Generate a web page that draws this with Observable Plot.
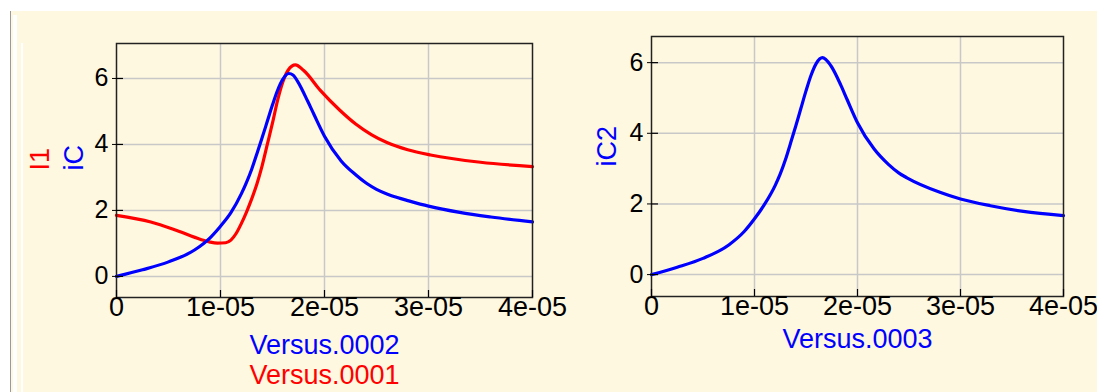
<!DOCTYPE html>
<html><head><meta charset="utf-8">
<script src="https://cdn.jsdelivr.net/npm/d3@7"></script>
<script src="https://cdn.jsdelivr.net/npm/@observablehq/plot@0.6"></script>
<style>
html,body{margin:0;padding:0;background:#fff;}
#wrap{position:relative;width:1097px;height:392px;overflow:hidden;background:#fff;font-family:"Liberation Sans",Arial,sans-serif;}
#panel{position:absolute;left:11px;top:11px;right:0;bottom:0;background:#fff8e1;}
.edge{position:absolute;left:10px;top:11px;width:1px;bottom:0;background:#9a9a9a;}
.w1{position:absolute;left:13px;top:15px;width:4px;bottom:0;background:#fff;}
.w2{position:absolute;left:21px;top:43px;width:2px;bottom:0;background:#fff;}
#left{position:absolute;left:0;top:0;}
#right{position:absolute;left:560px;top:0;}
</style></head><body>
<div id="wrap"><div id="panel"></div><div class="edge"></div><div class="w1"></div><div class="w2"></div><div id="left"></div><div id="right"></div></div>
<script>
// Tick values and labels
const xTicks = [0, 1e-5, 2e-5, 3e-5, 4e-5];
const xTickLabels = ["0", "1e-05", "2e-05", "3e-05", "4e-05"];
const yTicks = [0, 2, 4, 6];

// Left panel: iC (blue)
const iC_t = [0, 2.5e-6, 5e-6, 7.5e-6, 9e-6, 1e-5, 1.1e-5, 1.2e-5, 1.25e-5, 1.3e-5, 1.35e-5, 1.4e-5, 1.45e-5, 1.5e-5, 1.55e-5, 1.6e-5, 1.657e-5, 1.7e-5, 1.74e-5, 1.84e-5, 1.9e-5, 2e-5, 2.16e-5, 2.3e-5, 2.4e-5, 2.5e-5, 2.6e-5, 2.7e-5, 2.81e-5, 3e-5, 3.3e-5, 3.6e-5, 4e-5];
const iC_v = [0, 0.2, 0.44, 0.8, 1.17, 1.52, 1.93, 2.5, 2.85, 3.25, 3.72, 4.2, 4.7, 5.2, 5.65, 5.98, 6.15, 6.1, 5.92, 5.3, 4.9, 4.25, 3.5, 3.08, 2.83, 2.64, 2.5, 2.39, 2.29, 2.13, 1.94, 1.8, 1.65];

// Left panel: I1 (red)
const I1_t = [0, 3.3e-6, 5.8e-6, 8.1e-6, 9e-6, 9.7e-6, 1.05e-5, 1.1e-5, 1.15e-5, 1.2e-5, 1.25e-5, 1.3e-5, 1.35e-5, 1.4e-5, 1.45e-5, 1.5e-5, 1.55e-5, 1.6e-5, 1.65e-5, 1.72e-5, 1.8e-5, 1.96e-5, 2.15e-5, 2.3e-5, 2.45e-5, 2.6e-5, 2.8e-5, 3.02e-5, 3.5e-5, 4e-5];
const I1_v = [1.85, 1.65, 1.39, 1.12, 1.04, 1.01, 1.02, 1.1, 1.3, 1.6, 1.95, 2.35, 2.8, 3.35, 4.0, 4.65, 5.35, 5.9, 6.25, 6.41, 6.24, 5.64, 5.03, 4.62, 4.3, 4.06, 3.84, 3.68, 3.46, 3.33];

// Right panel: iC2 (blue)
const iC2_t = [0, 2.5e-6, 5e-6, 7.5e-6, 9e-6, 1e-5, 1.1e-5, 1.2e-5, 1.25e-5, 1.3e-5, 1.35e-5, 1.4e-5, 1.45e-5, 1.5e-5, 1.55e-5, 1.6e-5, 1.66e-5, 1.74e-5, 1.84e-5, 1.9e-5, 2e-5, 2.16e-5, 2.3e-5, 2.4e-5, 2.48e-5, 2.8e-5, 3e-5, 3.29e-5, 3.61e-5, 4e-5];
const iC2_v = [0, 0.21, 0.46, 0.84, 1.22, 1.58, 2.0, 2.52, 2.85, 3.25, 3.72, 4.2, 4.7, 5.2, 5.65, 5.98, 6.14, 5.92, 5.35, 4.95, 4.3, 3.56, 3.12, 2.88, 2.74, 2.33, 2.14, 1.95, 1.79, 1.67];

const zip = (t, v) => t.map((d, i) => ({t: d, v: v[i]}));
const H = 392;

function panel(o) {
  const innerW = o.width - o.mL - o.mR, innerH = H - o.mT - o.mB;
  const marks = [
    Plot.ruleX(xTicks.slice(1, -1), {x: d => d, stroke: "#c8c8c8", strokeWidth: 1.5}),
    Plot.ruleY(yTicks, {y: d => d, stroke: "#c8c8c8", strokeWidth: 1.5}),
    ...o.series.map(s => Plot.line(zip(s.t, s.v), {x: "t", y: "v", stroke: s.color, strokeWidth: 3.2, curve: "monotone-x"})),
    Plot.frame({stroke: "#222", strokeWidth: 1.5}),
    Plot.axisX({ticks: xTicks, tickFormat: d => xTickLabels[xTicks.indexOf(d)], tickSize: 0, tickPadding: -1, fontSize: 27, label: null}),
    Plot.axisY({ticks: yTicks, tickSize: 4, tickPadding: 4, fontSize: 25, label: null}),
    Plot.tickY(yTicks, {y: d => d, stroke: "#000", strokeWidth: 1.2, insetRight: innerW - 7}),
    Plot.tickX(xTicks, {x: d => d, stroke: "#000", strokeWidth: 1.2, insetTop: innerH - 7}),
    ...o.xLabels.map(l => Plot.text([l.text], {text: d => d, frameAnchor: "bottom", dy: l.dy, lineAnchor: "bottom", fill: l.color, fontSize: 27})),
    ...o.yLabels.map(l => Plot.text([l.text], {text: d => d, frameAnchor: "left", dx: l.dx, rotate: -90, fill: l.color, fontSize: 27}))
  ];
  return Plot.plot({
    width: o.width, height: H,
    marginLeft: o.mL, marginRight: o.mR, marginTop: o.mT, marginBottom: o.mB,
    x: {domain: [0, 4e-5]},
    y: {domain: o.yDomain},
    style: {background: "transparent", fontFamily: "Liberation Sans, Arial, sans-serif", color: "#000", overflow: "visible"},
    marks
  });
}

document.getElementById("left").appendChild(panel({
  width: 560, mL: 116, mR: 28, mT: 43, mB: 95,
  yDomain: [-0.64, 7.06],
  series: [{t: I1_t, v: I1_v, color: "#ff0000"}, {t: iC_t, v: iC_v, color: "#0000ff"}],
  xLabels: [{text: "Versus.0002", dy: 56, color: "#0000ff"}, {text: "Versus.0001", dy: 86, color: "#ff0000"}],
  yLabels: [{text: "I1", dx: -76, color: "#ff0000"}, {text: "iC", dx: -42, color: "#0000ff"}]
}));

document.getElementById("right").appendChild(panel({
  width: 537, mL: 91, mR: 34, mT: 36, mB: 96,
  yDomain: [-0.62, 6.74],
  series: [{t: iC2_t, v: iC2_v, color: "#0000ff"}],
  xLabels: [{text: "Versus.0003", dy: 51, color: "#0000ff"}],
  yLabels: [{text: "iC2", dx: -44, color: "#0000ff"}]
}));
</script>
</body></html>
